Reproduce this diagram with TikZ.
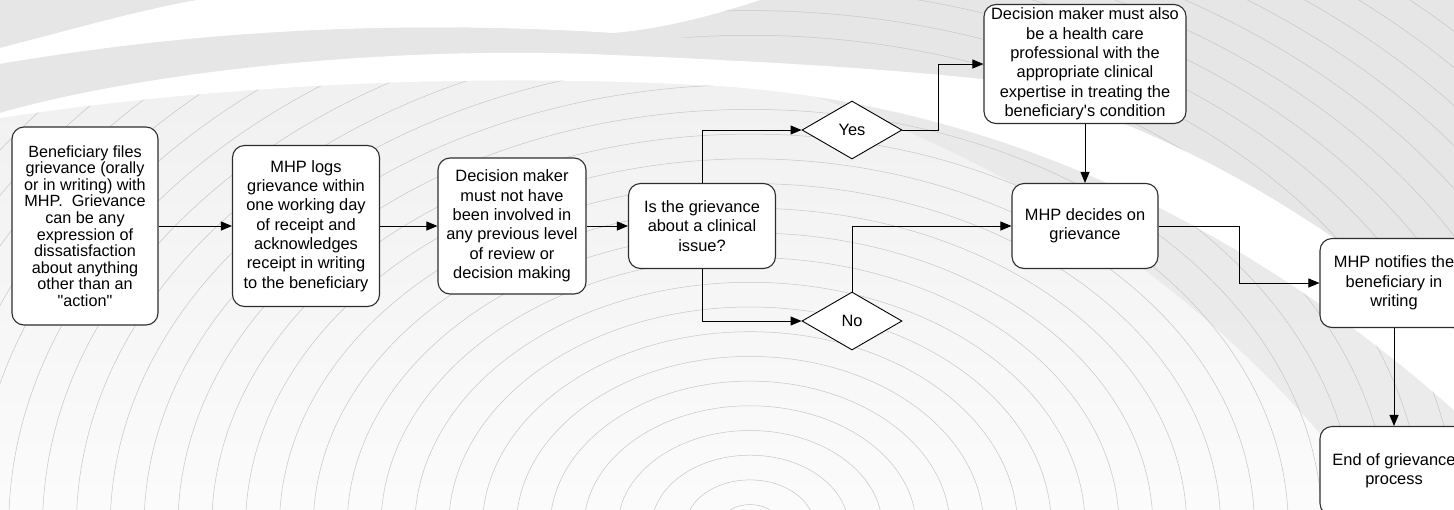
\documentclass[tikz,border=0pt]{standalone}
\usepackage{fontspec}
\setmainfont{Liberation Sans}[Ligatures=TeXOff]
\usetikzlibrary{arrows.meta,shapes.geometric}
\definecolor{bandgray}{HTML}{E6E6E6}
\definecolor{ringgray}{HTML}{C6C6C6}
\definecolor{edgegray}{HTML}{2E2E2E}
\begin{document}
\begin{tikzpicture}[x=1pt,y=-1pt,
  stepbox/.style={draw=edgegray,line width=1.1pt,rounded corners=12pt,fill=white,align=center,inner sep=0pt,font=\fontsize{16.4}{19.3}\selectfont},
  choice/.style={diamond,draw=black,line width=0.9pt,fill=white,inner sep=0pt,minimum width=100pt,minimum height=58pt,font=\fontsize{16.4}{19.3}\selectfont},
  flow/.style={line width=0.9pt,-{Triangle[length=11pt,width=9pt]}}]
\useasboundingbox (0,0) rectangle (1454,509);
\clip (0,0) rectangle (1454,509);

% background swirl
\shade[top color=gray!13,bottom color=gray!3] (0,0) rectangle (1454,509);
\fill[bandgray] (760,0) -- (1454,0) -- (1454,330) .. controls (1300,200) and (1150,120) .. (990,80)
  .. controls (900,58) and (780,42) .. (612,33) .. controls (650,30) and (700,20) .. (760,0) -- cycle;
\fill[bandgray,opacity=0.7] (800,92) .. controls (1050,110) and (1250,230) .. (1454,410) -- (1454,509) -- (1380,509)
  .. controls (1250,330) and (1050,170) .. (800,92) -- cycle;
\foreach \k in {0,...,32}
  \draw[ringgray,line width=0.5pt] (750,527) ellipse [x radius={1.37*(22.4+24.7*\k)},y radius={22.4+24.7*\k}];
\fill[bandgray] (0,0) -- (197,0) .. controls (140,10) and (70,30) .. (0,48) -- cycle;
\fill[white] (0,48) .. controls (70,30) and (140,10) .. (197,0) -- (760,0) .. controls (700,20) and (650,30) .. (612,33)
  .. controls (400,20) and (200,30) .. (0,64) -- cycle;
\fill[bandgray] (0,64) .. controls (200,30) and (400,20) .. (612,33) .. controls (780,42) and (900,58) .. (990,80)
  .. controls (900,70) and (780,62) .. (612,55) .. controls (400,45) and (150,70) .. (0,113) -- cycle;
\fill[white] (0,113) .. controls (150,70) and (400,45) .. (612,55) .. controls (780,62) and (900,70) .. (990,80)
  .. controls (1150,120) and (1300,200) .. (1454,330) -- (1454,410) .. controls (1250,230) and (1000,100) .. (700,85)
  .. controls (400,70) and (150,95) .. (0,118) -- cycle;

% steps
\node[stepbox,minimum width=146pt,minimum height=198pt,font=\fontsize{16.2}{16.6}\selectfont] (files) at (85,226)
  {Beneficiary files\\grievance (orally\\or in writing) with\\MHP.~~Grievance\\can be any\\expression of\\dissatisfaction\\about anything\\other than an\\"action"};
\node[stepbox,minimum width=147pt,minimum height=161pt] (logs) at (306,226)
  {MHP logs\\grievance within\\one working day\\of receipt and\\acknowledges\\receipt in writing\\to the beneficiary};
\node[stepbox,minimum width=148pt,minimum height=136pt] (rule) at (512,226)
  {Decision maker\\must not have\\been involved in\\any previous level\\of review or\\decision making};
\node[stepbox,minimum width=147pt,minimum height=85pt] (issue) at (702,226)
  {Is the grievance\\about a clinical\\issue?};
\node[choice] (yes) at (852,130) {Yes};
\node[choice] (no) at (852,321) {No};
\node[stepbox,minimum width=202pt,minimum height=119pt] (expert) at (1085,64)
  {Decision maker must also\\be a health care\\professional with the\\appropriate clinical\\expertise in treating the\\beneficiary's condition};
\node[stepbox,minimum width=146pt,minimum height=85pt] (decide) at (1085,226)
  {MHP decides on\\grievance};
\node[stepbox,minimum width=148pt,minimum height=89pt] (notify) at (1394,283)
  {MHP notifies the\\beneficiary in\\writing};
\node[stepbox,minimum width=148pt,minimum height=89pt] (finish) at (1394,471)
  {End of grievance\\process};

% connectors
\draw[flow] (files) -- (logs);
\draw[flow] (logs) -- (rule);
\draw[flow] (rule) -- (issue);
\draw[flow] (issue.north) |- (yes.west);
\draw[flow] (issue.south) |- (no.west);
\draw[flow] (yes.east) -- ++(36,0) |- (expert.west);
\draw[flow] (expert.south) -- (decide.north);
\draw[flow] (no.north) |- (decide.west);
\draw[flow] (decide.east) -- ++(81,0) |- (notify.west);
\draw[flow] (notify.south) -- (finish.north);
\end{tikzpicture}
\end{document}
